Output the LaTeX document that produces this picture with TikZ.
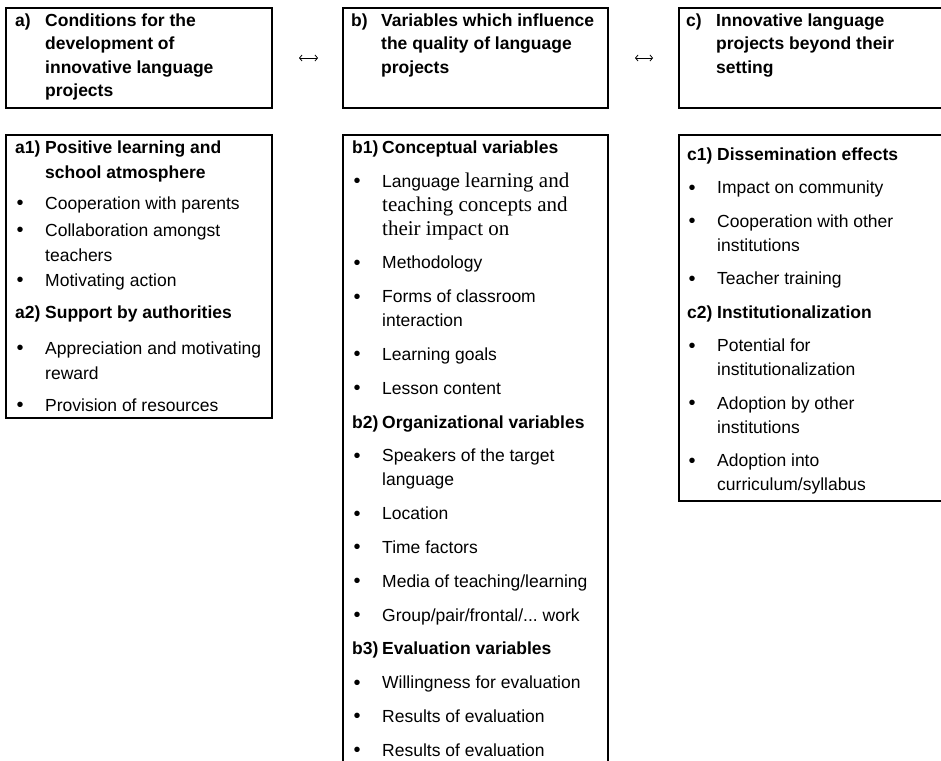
\documentclass[tikz,border=0pt]{standalone}
\usepackage{fontspec}
\setmainfont{Liberation Sans}
\newfontfamily\serifpart{Liberation Serif}
\usetikzlibrary{arrows.meta,positioning}

% fixed top of the first line, so baselines can be placed by hand
\newcommand{\topstrut}{\rule{0pt}{14pt}}
\newcommand{\headfont}{\fontsize{17.5}{23.5}\selectfont\bfseries}
\newcommand{\listfont}{\fontsize{17.5}{24}\selectfont}
% bold label with hanging text, and bullet points
\newcommand{\labelline}[3][0pt]{\vspace{#1}\hangindent=30pt\hangafter=1\noindent\makebox[30pt][l]{\topstrut\bfseries #2}{\bfseries #3}\par}
\newcommand{\bulletitem}[2][9.8pt]{\vspace{#1}\hangindent=30pt\hangafter=1\noindent\makebox[30pt][l]{\topstrut\hspace{1.5pt}\raisebox{-0.5pt}{\fontsize{20}{20}\selectfont\textbullet}}#2\par}

\begin{document}
\begin{tikzpicture}[
    x=1pt, y=1pt,
    boxframe/.style={draw, line width=2pt, anchor=north west, inner sep=0pt},
    boxtext/.style={anchor=north west, inner sep=0pt},
    link/.style={{Straight Barb[length=2.5pt,width=6pt]}-{Straight Barb[length=2.5pt,width=6pt]}, line width=0.8pt}
]
\path[use as bounding box, clip] (0,0) rectangle (941,-760);

% Header row
\node[boxframe, minimum width=266pt, minimum height=100pt] (headA) at (5,-7) {};
\node[boxframe, minimum width=265pt, minimum height=100pt] (headB) at (342,-7) {};
\node[boxframe, minimum width=300pt, minimum height=100pt] (headC) at (678,-7) {};

\node[boxtext, below right=5pt and 10pt of headA.north west] (headAtext)
    {\parbox[t]{255pt}{\headfont\labelline{a)}{Conditions for the\newline development of\newline innovative language\newline projects}}};
\node[boxtext, below right=5pt and 9pt of headB.north west] (headBtext)
    {\parbox[t]{255pt}{\headfont\labelline{b)}{Variables which influence\newline the quality of language\newline projects}}};
\node[boxtext, below right=5pt and 8pt of headC.north west] (headCtext)
    {\parbox[t]{255pt}{\headfont\labelline{c)}{Innovative language\newline projects beyond their\newline setting}}};

% Links between the headers
\draw[link] ([xshift=26pt]headA.east) -- ([xshift=-24pt]headB.west);
\draw[link] ([xshift=26pt]headB.east) -- ([xshift=-25pt]headC.west);

% Content boxes
\node[boxframe, minimum width=266pt, minimum height=283pt] (listA) at (5,-134) {};
\node[boxframe, minimum width=265pt, minimum height=660pt] (listB) at (342,-134) {};
\node[boxframe, minimum width=300pt, minimum height=366pt] (listC) at (678,-134) {};

% a) conditions
\node[boxtext, below right=5pt and 10pt of listA.north west] (listAtext) {\parbox[t]{255pt}{%
    \fontsize{17.5}{25}\selectfont
    \labelline{a1)}{Positive learning and\newline school atmosphere}
    \bulletitem[6pt]{Cooperation with parents}
    \bulletitem[2pt]{Collaboration amongst\newline teachers}
    \bulletitem[0pt]{Motivating action}
    \labelline[7pt]{a2)}{Support by authorities}
    \bulletitem[11pt]{Appreciation and motivating\newline reward}
    \bulletitem[7pt]{Provision of resources}}};

% b) variables
\node[boxtext, below right=5pt and 10pt of listB.north west] (listBtext) {\parbox[t]{255pt}{%
    \listfont
    \labelline{b1)}{Conceptual variables}
    \bulletitem{Language {\serifpart\fontsize{21}{24}\selectfont learning and\newline teaching concepts and\newline their impact on}}
    \bulletitem{Methodology}
    \bulletitem{Forms of classroom\newline interaction}
    \bulletitem{Learning goals}
    \bulletitem{Lesson content}
    \labelline[9.8pt]{b2)}{Organizational variables}
    \bulletitem{Speakers of the target\newline language}
    \bulletitem{Location}
    \bulletitem{Time factors}
    \bulletitem{Media of teaching/learning}
    \bulletitem{Group/pair/frontal/...\ work}
    \labelline[9.8pt]{b3)}{Evaluation variables}
    \bulletitem{Willingness for evaluation}
    \bulletitem{Results of evaluation}
    \bulletitem{Results of evaluation}}};

% c) beyond the setting
\node[boxtext, below right=12pt and 9pt of listC.north west] (listCtext) {\parbox[t]{255pt}{%
    \listfont
    \labelline{c1)}{Dissemination effects}
    \bulletitem[9.5pt]{Impact on community}
    \bulletitem[9.5pt]{Cooperation with other\newline institutions}
    \bulletitem[9.5pt]{Teacher training}
    \labelline[9.5pt]{c2)}{Institutionalization}
    \bulletitem[9.5pt]{Potential for\newline institutionalization}
    \bulletitem[9.5pt]{Adoption by other\newline institutions}
    \bulletitem[9.5pt]{Adoption into\newline curriculum/syllabus}}};

\end{tikzpicture}
\end{document}
